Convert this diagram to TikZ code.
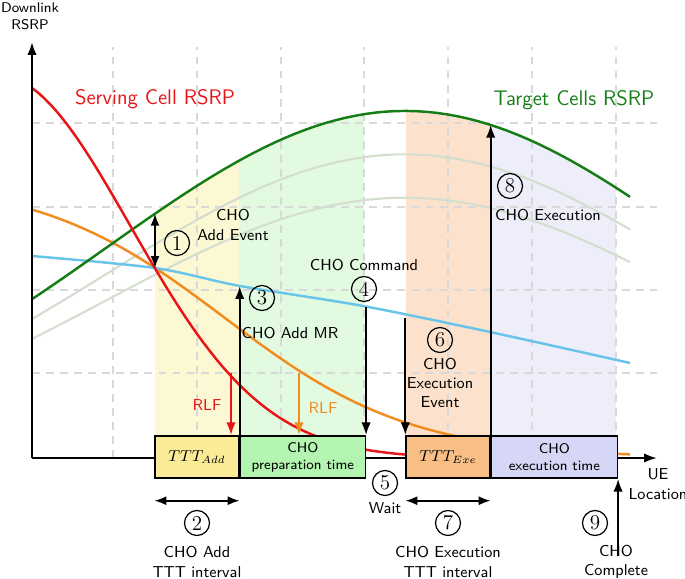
\documentclass[tikz,border=0pt]{standalone}
\usepackage{tikz}
\usetikzlibrary{positioning, calc, arrows.meta}

\definecolor{servred}{RGB}{232,20,22}
\definecolor{rlforange}{RGB}{242,140,30}
\definecolor{tgtgreen}{RGB}{22,125,22}
\definecolor{skyline}{RGB}{105,196,234}
\definecolor{fadegreen}{RGB}{212,222,207}
\definecolor{addshade}{RGB}{253,248,212}
\definecolor{prepshade}{RGB}{226,250,224}
\definecolor{exeshade}{RGB}{252,226,204}
\definecolor{execshade}{RGB}{238,238,250}
\definecolor{addfill}{RGB}{250,236,150}
\definecolor{prepfill}{RGB}{178,244,176}
\definecolor{exefill}{RGB}{247,190,134}
\definecolor{execfill}{RGB}{214,214,246}

\begin{document}
\begin{tikzpicture}[
  x=0.02cm, y=0.02cm,
  font=\sffamily,
  >=Latex,
  box/.style={rectangle, draw, line width=0.8pt, minimum height=0.84cm, inner sep=0pt, align=center, font=\sffamily\footnotesize},
  arrow/.style={-{Latex[length=2.6mm, width=1.9mm]}, line width=1.3pt},
  dbl/.style={{Latex[length=2.4mm, width=1.8mm]}-{Latex[length=2.4mm, width=1.8mm]}, line width=1.1pt},
  curve/.style={line width=1.4pt},
  fade/.style={fadegreen, line width=1.2pt},
  gridline/.style={gray!30, line width=0.7pt, dash pattern=on 4.5pt off 3.5pt},
  num/.style={circle, draw, line width=0.7pt, inner sep=0pt, minimum size=0.5cm, font=\rmfamily\large},
  lbl/.style={align=center, font=\sffamily\small},
  declare function={
    tgt(\x)=347*exp(-((\x-373)/100)^2/17.8);
    srv(\x)=383*exp(-((\x+35)/100)^2/3.55);
    org(\x)=280/(1+exp((\x-193)/93.5));
  }
]
\useasboundingbox (-32,-120) rectangle (653,458);

%--------------------------------------
% Shaded phases (under the target curve)
%--------------------------------------
\begin{scope}
  \clip (0,0) -- plot[domain=0:598, samples=60] (\x,{tgt(\x)}) -- (598,0) -- cycle;
  \fill[addshade] (123,0) rectangle (207,400);
  \fill[prepshade] (207,0) rectangle (332,400);
  \fill[exeshade] (374,0) rectangle (458,400);
  \fill[execshade] (458,0) rectangle (584,400);
\end{scope}

%--------------------------------------
% Grid
%--------------------------------------
\foreach \gx in {81,165,249,332,416,500,584}
  \draw[gridline] (\gx,0) -- (\gx,411);
\foreach \gy in {85,168,251,335}
  \draw[gridline] (0,\gy) -- (625,\gy);

%--------------------------------------
% RSRP curves
%--------------------------------------
\draw[fade] plot[domain=0:598, samples=60] (\x,{0.75*tgt(\x)});
\draw[fade] plot[domain=0:598, samples=60] (\x,{0.875*tgt(\x)});
\draw[rlforange, curve] plot[domain=0:598, samples=60] (\x,{org(\x)});
\draw[skyline, curve] plot[smooth] coordinates {(0,202) (123,190) (208,172) (331,152) (458,126) (598,95)};
\draw[tgtgreen, curve] plot[domain=0:598, samples=60] (\x,{tgt(\x)});
\draw[servred, curve] plot[domain=0:374, samples=60] (\x,{srv(\x)});

\node[servred, font=\sffamily\large] (srvlab) at (123,359) {Serving Cell RSRP};
\node[tgtgreen, font=\sffamily\large] (tgtlab) at (542,358) {Target Cells RSRP};

%--------------------------------------
% Axes
%--------------------------------------
\coordinate (origin) at (0,0);
\coordinate (xend) at (625,0);
\coordinate (yend) at (0,416);
\draw[arrow] (origin) -- (xend);
\draw[arrow] (origin) -- (yend);
\node[font=\sffamily\footnotesize, align=center] (ylab) at (-2,442) {Downlink\\RSRP};
\node[lbl] (xlab) at (626,-26) {UE\\Location};

%--------------------------------------
% Phase boxes
%--------------------------------------
\node[box, fill=addfill, minimum width=1.68cm] (addbox) at (165,1) {\small$TTT_{Add}$};
\node[box, fill=prepfill, minimum width=2.5cm, right=0pt of addbox] (prepbox) {CHO\\preparation time};
\node[box, fill=exefill, minimum width=1.68cm] (exebox) at (416,1) {\small$TTT_{Exe}$};
\node[box, fill=execfill, minimum width=2.52cm, right=0pt of exebox] (execbox) {CHO\\execution time};

%--------------------------------------
% Events
%--------------------------------------
\coordinate (cross) at (123,190);
\coordinate (addtop) at (123,{tgt(123)});
\coordinate (mr) at (addbox.north east |- 0,172);
\coordinate (cmd) at (prepbox.north east |- 0,151);
\coordinate (exev) at (exebox.north west |- 0,140);
\coordinate (hotgt) at (exebox.north east |- 0,{tgt(458)});
\coordinate (rlfred) at (199,85);
\coordinate (rlforg) at (267,85);
\coordinate[below=1.54cm of execbox.south east] (done);

\draw[dbl] (addtop) -- (cross);
\draw[arrow] (addbox.north east) -- (mr);
\draw[arrow] (cmd) -- (prepbox.north east);
\draw[arrow] (exev) -- (exebox.north west);
\draw[arrow] (exebox.north east) -- (hotgt);
\draw[arrow] (done) -- (execbox.south east);
\draw[arrow, servred] (rlfred) -- (rlfred |- addbox.north);
\draw[arrow, rlforange] (rlforg) -- (rlforg |- prepbox.north);
\draw[dbl] ([yshift=-0.44cm]addbox.south west) -- ([yshift=-0.44cm]addbox.south east);
\draw[dbl] ([yshift=-0.44cm]exebox.south west) -- ([yshift=-0.44cm]exebox.south east);

\node[num] (n1) at (145,215) {1};
\node[lbl] (addev) at (201,233) {CHO\\Add Event};
\node[num] (n2) at (165,-65) {2};
\node[lbl] (addttt) at (165,-104) {CHO Add\\TTT interval};
\node[num] (n3) at (230,160) {3};
\node[lbl] (addmr) at (258,125) {CHO Add MR};
\node[num] (n4) at (332,169) {4};
\node[lbl] (cmdlab) at (332,193) {CHO Command};
\node[num] (n5) at (353,-25) {5};
\node[lbl] (waitlab) at (353,-50) {Wait};
\node[num] (n6) at (408,118) {6};
\node[lbl] (exeev) at (408,75) {CHO\\Execution\\Event};
\node[num] (n7) at (416,-65) {7};
\node[lbl] (exettt) at (416,-104) {CHO Execution\\TTT interval};
\node[num] (n8) at (478,272) {8};
\node[lbl] (exelab) at (516,243) {CHO Execution};
\node[num] (n9) at (563,-65) {9};
\node[lbl] (donelab) at (584,-104) {CHO\\Complete};
\node[lbl, servred] (rlf1) at (175,53) {RLF};
\node[lbl, rlforange] (rlf2) at (291,50) {RLF};

\end{tikzpicture}
\end{document}
